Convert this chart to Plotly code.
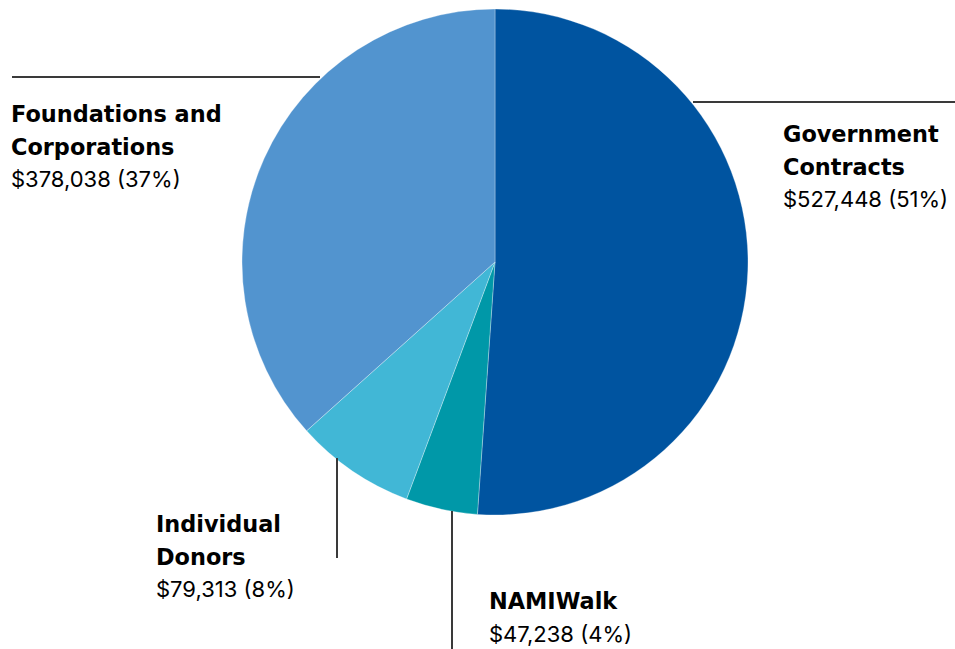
import plotly.graph_objects as go

categories = ["Government Contracts", "NAMIWalk", "Individual Donors", "Foundations and Corporations"]
values = [527448, 47238, 79313, 378038]
percent_labels = ["51%", "4%", "8%", "37%"]
colors = ["#0054A0", "#0098A8", "#41B7D6", "#5294CF"]

W, H = 955, 649

fig = go.Figure(go.Pie(
    labels=categories, values=values, sort=False, direction="clockwise", rotation=0,
    marker=dict(colors=colors, line=dict(color="rgba(255,255,255,0.5)", width=0.6)),
    textinfo="none", hoverinfo="label+value+percent", showlegend=False,
    domain=dict(x=[242 / W, 748 / W], y=[(H - 515) / H, (H - 9) / H]),
))

BOLD_FONT = "DejaVu Sans"
BOLD_SIZE = 22.4
REG_FONT = "Inter"
REG_SIZE = 22

def px(x):
    return x / W

def py(y):
    return (H - y) / H

label_lines = {
    "Government Contracts": ["Government", "Contracts"],
    "NAMIWalk": ["NAMIWalk"],
    "Individual Donors": ["Individual", "Donors"],
    "Foundations and Corporations": ["Foundations and", "Corporations"],
}
label_pos = {
    "Government Contracts": (781, 134),
    "NAMIWalk": (487, 601),
    "Individual Donors": (154, 524),
    "Foundations and Corporations": (9, 114),
}
pitch = 32.5
annotations = []
for cat, val, pct in zip(categories, values, percent_labels):
    x0, y0 = label_pos[cat]
    lines = [(f"<b>{t}</b>", BOLD_FONT, BOLD_SIZE) for t in label_lines[cat]]
    lines.append((f"${val:,} ({pct})", REG_FONT, REG_SIZE))
    for i, (t, fam, sz) in enumerate(lines):
        annotations.append(dict(
            x=px(x0), y=py(y0 + i * pitch), xref="paper", yref="paper",
            xanchor="left", yanchor="middle", showarrow=False, align="left",
            text=t, font=dict(family=fam, size=sz, color="#000000"),
        ))

line_col = "#3a3a3a"
shapes = [
    dict(type="line", xref="paper", yref="paper", x0=px(12), x1=px(320), y0=py(77), y1=py(77),
         line=dict(color=line_col, width=2)),
    dict(type="line", xref="paper", yref="paper", x0=px(693), x1=px(955), y0=py(102), y1=py(102),
         line=dict(color=line_col, width=2)),
    dict(type="line", xref="paper", yref="paper", x0=px(337), x1=px(337), y0=py(458), y1=py(558),
         line=dict(color=line_col, width=2)),
    dict(type="line", xref="paper", yref="paper", x0=px(452), x1=px(452), y0=py(511), y1=py(649),
         line=dict(color=line_col, width=2)),
]

fig.update_layout(
    width=W, height=H, margin=dict(l=0, r=0, t=0, b=0),
    paper_bgcolor="white", plot_bgcolor="white",
    annotations=annotations, shapes=shapes,
)
fig.write_html("out.html", config={"displayModeBar": False},
               post_script="document.body.style.margin='0';")
